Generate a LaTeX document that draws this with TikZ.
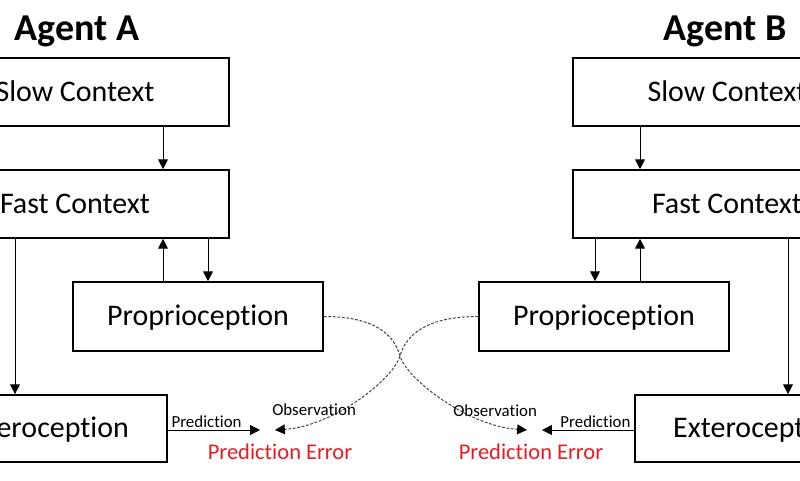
\documentclass[tikz,border=0pt]{standalone}
\usepackage{fontspec}
\setmainfont{Carlito}[Ligatures=NoCommon]
\usetikzlibrary{arrows.meta,calc}
\definecolor{errred}{RGB}{228,28,36}
\tikzset{
  box/.style={draw, line width=1.2pt, text height=13.4pt, text depth=0pt,
    font=\fontsize{21.3}{25}\selectfont},
  ctxbox/.style={box, minimum width=7.7cm, minimum height=1.7cm},
  propbox/.style={box, minimum width=6.25cm, minimum height=1.725cm},
  extbox/.style={box, minimum width=6.15cm, minimum height=1.675cm},
  arr/.style={-{Triangle[length=7pt,width=7pt]}, line width=0.7pt},
  obs/.style={-{Triangle[length=7pt,width=7pt,black]}, line width=0.7pt,
    dash pattern=on 2pt off 1.2pt, draw=black!75},
  lbl/.style={font=\fontsize{12}{14}\selectfont, inner sep=1.5pt},
  err/.style={text=errred, font=\fontsize{16}{19}\selectfont},
  agent/.style={font=\fontsize{27}{32}\selectfont\bfseries}
}
\begin{document}
\begin{tikzpicture}[x=0.025cm, y=-0.025cm]
  \useasboundingbox (0,0) rectangle (800,480);
  \clip (0,0) rectangle (800,480);
  % agent A
  \node[agent, anchor=base] (titleA) at (77,40) {Agent A};
  \node[ctxbox] (slowA) at (75,92) {Slow Context};
  \node[ctxbox] (fastA) at (75,204) {Fast Context};
  \node[propbox] (propA) at (198,316.5) {Proprioception};
  \node[extbox] (extA) at (44,428.5) {Exteroception};
  \draw[arr] ($(slowA.south)+(88,0)$) -- ($(fastA.north)+(88,0)$);
  \draw[arr] ($(propA.north)+(-35,0)$) -- ($(fastA.south)+(88,0)$);
  \draw[arr] ($(fastA.south)+(133,0)$) -- ($(propA.north)+(10,0)$);
  \draw[arr] ($(fastA.south)+(-60,0)$) -- ($(extA.north)+(-29,0)$);
  % agent B
  \node[agent, anchor=base] (titleB) at (725,40) {Agent B};
  \node[ctxbox] (slowB) at (727,92) {Slow Context};
  \node[ctxbox] (fastB) at (727,204) {Fast Context};
  \node[propbox] (propB) at (604,316.5) {Proprioception};
  \node[extbox] (extB) at (758,428.5) {Exteroception};
  \draw[arr] ($(slowB.south)+(-87,0)$) -- ($(fastB.north)+(-87,0)$);
  \draw[arr] ($(propB.north)+(36,0)$) -- ($(fastB.south)+(-87,0)$);
  \draw[arr] ($(fastB.south)+(-132,0)$) -- ($(propB.north)+(-9,0)$);
  \draw[arr] ($(fastB.south)+(61,0)$) -- ($(extB.north)+(30,0)$);
  % prediction errors
  \coordinate (tipA) at (260,430);
  \coordinate (tipB) at (542,430);
  \coordinate (obsA) at (275,430);
  \coordinate (obsB) at (527,430);
  \coordinate (cross) at (400,356);
  \draw[arr] (extA.east |- tipA) -- node[lbl, above, pos=0.42] (predA) {Prediction} (tipA);
  \draw[arr] (extB.west |- tipB) -- node[lbl, above, pos=0.42] (predB) {Prediction} (tipB);
  \draw[obs] (propA.east) .. controls +(50,0) and +(-6,-22) .. (cross)
    .. controls +(6,22) and +(-60,-4) .. (obsB);
  \draw[obs] (propB.west) .. controls +(-50,0) and +(6,-22) .. (cross)
    .. controls +(-6,22) and +(60,-4) .. (obsA);
  \node[lbl, anchor=base west, inner sep=0pt] (obsLblA) at (272,415) {Observation};
  \node[lbl, anchor=base west, inner sep=0pt] (obsLblB) at (453,416) {Observation};
  \node[err, anchor=base] (errA) at (280,459) {Prediction Error};
  \node[err, anchor=base] (errB) at (531,459) {Prediction Error};
\end{tikzpicture}
\end{document}
